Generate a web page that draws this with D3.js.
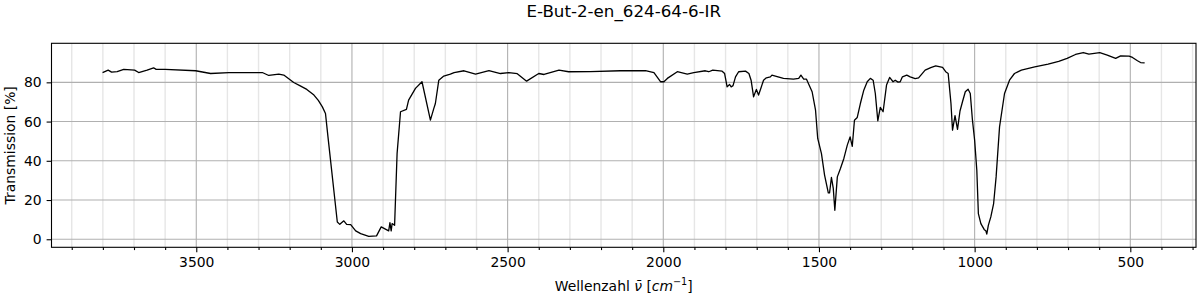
<!DOCTYPE html>
<html>
<head>
<meta charset="utf-8">
<script src="https://cdn.jsdelivr.net/npm/d3@7"></script>
<style>
  html, body { margin: 0; padding: 0; background: #fff; }
  svg { display: block; font-family: "DejaVu Sans", sans-serif; }
</style>
</head>
<body>
<svg id="chart" width="1200" height="300"></svg>
<script>
const title = "E-But-2-en_624-64-6-IR";
const xTicks = [3500, 3000, 2500, 2000, 1500, 1000, 500];
const yTicks = [0, 20, 40, 60, 80];

const wavenumber = [
  3801, 3783, 3772, 3754, 3733, 3698, 3685, 3658, 3637, 3629, 3600, 3502, 3454, 3395, 3288, 3267, 3235, 3219, 3187, 3166,
  3145, 3122, 3108, 3095, 3085, 3077, 3047, 3039, 3026, 3017, 3004, 2988, 2972, 2946, 2921, 2906, 2882, 2878, 2874, 2871,
  2863, 2855, 2844, 2825, 2818, 2796, 2775, 2748, 2737, 2732, 2721, 2705, 2684, 2672, 2640, 2603, 2560, 2523, 2496, 2469,
  2439, 2400, 2383, 2335, 2304, 2234, 2138, 2057, 2030, 2009, 1998, 1987, 1955, 1923, 1902, 1865, 1854, 1841, 1811, 1803,
  1795, 1787, 1782, 1776, 1768, 1758, 1736, 1725, 1718, 1710, 1701, 1694, 1686, 1678, 1669, 1656, 1651, 1640, 1614, 1582,
  1565, 1558, 1549, 1540, 1522, 1511, 1504, 1492, 1482, 1470, 1466, 1460, 1454, 1449, 1441, 1431, 1420, 1409, 1400, 1393,
  1386, 1377, 1367, 1356, 1345, 1335, 1326, 1319, 1311, 1303, 1294, 1283, 1273, 1262, 1255, 1246, 1239, 1232, 1218, 1207,
  1191, 1180, 1159, 1141, 1125, 1103, 1093, 1085, 1076, 1071, 1063, 1055, 1047, 1039, 1030, 1021, 1014, 1007, 1000, 993,
  988, 980, 969, 964, 961, 956, 948, 939, 931, 920, 904, 888, 872, 850, 807, 764, 730, 703, 676, 651,
  633, 598, 574, 547, 531, 504, 493, 477, 467, 454
];
const transmission = [
  85.0, 86.2, 85.2, 85.5, 86.6, 86.2, 85.0, 86.2, 87.4, 86.6, 86.6, 85.9, 84.5, 84.9, 85.0, 83.5, 84.2, 83.7, 79.9, 78.2,
  76.4, 73.5, 70.8, 67.5, 64.1, 52.2, 8.8, 7.6, 9.4, 7.6, 7.5, 4.3, 2.9, 1.5, 1.7, 6.3, 4.3, 8.5, 4.3, 8.0,
  7.1, 43.7, 65.0, 66.2, 70.9, 76.9, 80.3, 60.7, 66.7, 69.2, 81.1, 83.2, 84.2, 85.0, 85.9, 84.2, 86.0, 84.5, 84.9, 84.4,
  80.6, 84.5, 84.0, 86.2, 85.4, 85.5, 85.9, 86.0, 85.0, 80.3, 80.3, 82.0, 85.4, 84.2, 85.0, 85.9, 85.4, 86.2, 85.7, 84.5,
  77.7, 78.9, 77.7, 78.3, 82.8, 85.4, 85.7, 84.5, 81.1, 72.6, 76.4, 73.5, 77.2, 81.1, 82.3, 82.8, 83.7, 83.2, 82.0, 81.6,
  82.0, 83.7, 81.6, 81.6, 75.2, 65.8, 51.4, 43.7, 32.7, 23.6, 23.6, 31.5, 25.9, 14.8, 31.8, 36.1, 41.2, 48.0, 52.2, 47.4,
  60.7, 62.1, 69.2, 76.0, 80.3, 82.0, 81.1, 74.3, 60.4, 67.2, 65.0, 78.6, 82.5, 80.3, 81.1, 80.1, 80.3, 82.8, 83.7, 82.8,
  81.9, 82.3, 86.2, 87.5, 88.4, 87.6, 85.4, 84.5, 69.2, 55.6, 63.0, 56.0, 65.4, 70.1, 75.2, 76.5, 74.3, 60.7, 50.5, 35.2,
  13.1, 8.0, 4.9, 4.3, 2.6, 7.1, 11.4, 18.2, 31.8, 57.3, 74.3, 81.1, 84.5, 86.2, 87.9, 89.3, 90.7, 92.2, 94.2, 95.2,
  94.4, 95.1, 93.9, 92.2, 93.5, 93.4, 92.7, 91.0, 90.1, 89.9
];

const svg = d3.select("#chart");
const L = 51.5, R = 1196, T = 43.3, B = 247.3;

const x = d3.scaleLinear().domain([3965, 289]).range([L, R]);
const y = d3.scaleLinear().domain([-4.1, 99.9]).range([B, T]);

const minorX = d3.range(300, 4000, 100).filter(v => v % 500 !== 0);

// minor grid (x only)
svg.append("g").selectAll("line").data(minorX).join("line")
  .attr("x1", d => x(d)).attr("x2", d => x(d))
  .attr("y1", T).attr("y2", B)
  .attr("stroke", "#e6e6e6").attr("stroke-width", 1.4);

// major grid
svg.append("g").selectAll("line").data(xTicks).join("line")
  .attr("x1", d => x(d)).attr("x2", d => x(d))
  .attr("y1", T).attr("y2", B)
  .attr("stroke", "#b0b0b0").attr("stroke-width", 1.1);
svg.append("g").selectAll("line").data(yTicks).join("line")
  .attr("x1", L).attr("x2", R)
  .attr("y1", d => y(d)).attr("y2", d => y(d))
  .attr("stroke", "#b0b0b0").attr("stroke-width", 1.1);

// spectrum
const pts = wavenumber.map((v, i) => [v, transmission[i]]);
svg.append("path")
  .datum(pts)
  .attr("fill", "none")
  .attr("stroke", "#000")
  .attr("stroke-width", 1.3)
  .attr("stroke-linejoin", "round")
  .attr("d", d3.line().x(d => x(d[0])).y(d => y(d[1])));

// axes
const xAxis = svg.append("g").attr("transform", `translate(0,${B})`)
  .call(d3.axisBottom(x).tickValues(xTicks).tickFormat(d3.format("d")).tickSizeOuter(0).tickSize(4.9).tickPadding(4.9));
const xMinor = svg.append("g").attr("transform", `translate(0,${B})`)
  .call(d3.axisBottom(x).tickValues(minorX).tickFormat("").tickSizeOuter(0).tickSize(2.8));
const yAxis = svg.append("g").attr("transform", `translate(${L},0)`)
  .call(d3.axisLeft(y).tickValues(yTicks).tickFormat(d3.format("d")).tickSizeOuter(0).tickSize(4.9).tickPadding(4.9));

[xAxis, xMinor, yAxis].forEach(g => {
  g.select(".domain").remove();
  g.selectAll(".tick line").attr("stroke", "#000").attr("stroke-width", 1.1);
  g.selectAll(".tick text").attr("fill", "#000").style("font-size", "13.9px").style("font-family", "DejaVu Sans");
});

// frame
svg.append("rect").attr("x", L).attr("y", T).attr("width", R - L).attr("height", B - T)
  .attr("fill", "none").attr("stroke", "#000").attr("stroke-width", 1.1);

// title
svg.append("text").attr("x", (L + R) / 2).attr("y", 17).attr("text-anchor", "middle")
  .style("font-size", "16.7px").attr("fill", "#000").text(title);

// x label
const xl = svg.append("text").attr("x", (L + R) / 2).attr("y", 291).attr("text-anchor", "middle")
  .style("font-size", "13.9px").attr("fill", "#000");
xl.append("tspan").text("Wellenzahl ");
xl.append("tspan").style("font-style", "italic").text("\u03BD\u0304");
xl.append("tspan").text(" [");
xl.append("tspan").style("font-style", "italic").text("cm");
xl.append("tspan").attr("dy", -6).style("font-size", "9.7px").text("\u22121");
xl.append("tspan").attr("dy", 6).text("]");

// y label
svg.append("text")
  .attr("transform", `translate(15,${(T + B) / 2}) rotate(-90)`)
  .attr("text-anchor", "middle")
  .style("font-size", "13.9px").attr("fill", "#000")
  .text("Transmission [%]");
</script>
</body>
</html>
